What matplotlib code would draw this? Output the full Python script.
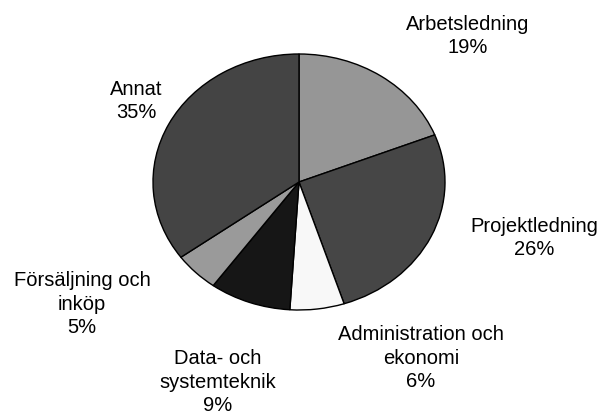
import matplotlib.pyplot as plt

labels = ["Arbetsledning\n19%", "Projektledning\n26%", "Administration och\nekonomi\n6%",
          "Data- och\nsystemteknik\n9%", "Försäljning och\ninköp\n5%", "Annat\n35%"]
values = [19, 26, 6, 9, 5, 35]
colors = ["#969696", "#464646", "#f8f8f8", "#161616", "#9a9a9a", "#444444"]

# label centres in pixels (x, y from top)
label_pos = [(468, 36), (534, 238), (421, 358), (218, 382), (82, 304), (136, 101)]

W, H = 604, 416
fig = plt.figure(figsize=(W / 100, H / 100), dpi=100)
# pie is slightly squashed: 292 px wide, 256 px tall, centre (299, 182)
ax = fig.add_axes([153 / W, (H - 310) / H, 292 / W, 256 / H])

ax.pie(values, colors=colors, startangle=90, counterclock=False,
       wedgeprops=dict(edgecolor="black", linewidth=1.0))
ax.set_aspect("auto")
ax.set_xlim(-1, 1)
ax.set_ylim(-1, 1)
ax.axis("off")

for lab, (px, py) in zip(labels, label_pos):
    fig.text(px / W, 1 - py / H, lab, ha="center", va="center", multialignment="center",
             fontsize=14.5, family="Liberation Sans", linespacing=1.32)

fig.savefig("out.png", dpi=100)
